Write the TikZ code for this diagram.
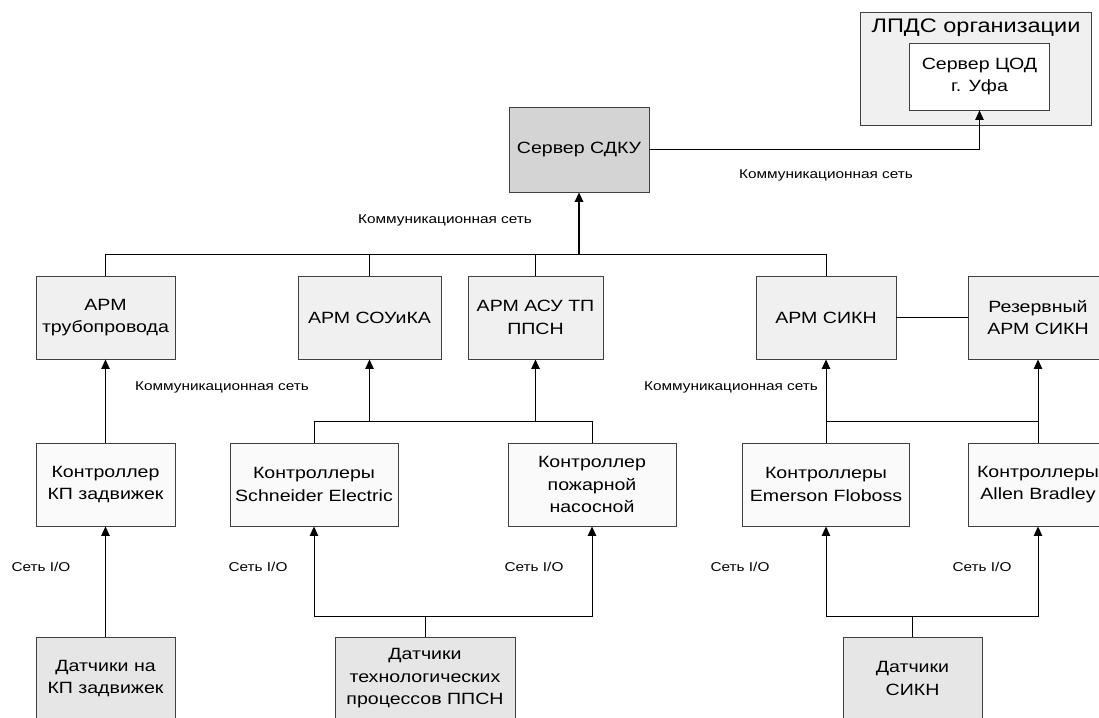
\documentclass[tikz,border=0pt]{standalone}
\usepackage{fontspec}
\setmainfont{Liberation Sans}[FakeStretch=1.2]
\usetikzlibrary{arrows.meta}

\definecolor{edgegray}{HTML}{404040}
\definecolor{fillsrv}{HTML}{D4D4D4}
\definecolor{fillarm}{HTML}{F0F0F0}
\definecolor{fillctl}{HTML}{FAFAFA}
\definecolor{fillsens}{HTML}{E6E6E6}

\begin{document}
\begin{tikzpicture}[x=1pt,y=-1pt,
  blk/.style={draw=edgegray, line width=0.9pt, align=center, inner sep=0pt,
    minimum height=83pt, font=\fontsize{16.3}{22.5}\selectfont},
  srvbox/.style={blk, fill=fillsrv},
  armbox/.style={blk, fill=fillarm},
  ctlbox/.style={blk, fill=fillctl},
  sensbox/.style={blk, fill=fillsens},
  wire/.style={line width=0.9pt},
  arr/.style={wire, -{Triangle[length=9.5pt,width=8.5pt]}},
  lbl/.style={inner sep=0pt, font=\fontsize{12.8}{14}\selectfont}]

\path[use as bounding box] (0,0) rectangle (1099,717);
\clip (0,0) rectangle (1099,717);
\fill[white] (0,0) rectangle (1099,717);

% organisation block with the central server
\node[armbox, minimum width=231pt, minimum height=113pt] (lpds) at (976,68.5) {};
\node[inner sep=0pt, font=\fontsize{19.6}{22}\selectfont] (lpdsT) at (976,28) {ЛПДС организации};
\node[blk, fill=white, minimum width=140pt, minimum height=67pt] (cod) at (979.5,76.5) {Сервер ЦОД\\г. Уфа};

% SCADA server
\node[srvbox, minimum width=140pt, minimum height=85pt] (srv) at (579,149.5) {Сервер СДКУ};

% workstations
\node[armbox, minimum width=139pt] (arm1) at (105.5,317.5) {АРМ\\трубопровода};
\node[armbox, minimum width=143pt] (arm2) at (369.5,317.5) {АРМ СОУиКА};
\node[armbox, minimum width=135pt] (arm3) at (535.5,317.5) {АРМ АСУ ТП\\ППСН};
\node[armbox, minimum width=140pt] (arm4) at (826,317.5) {АРМ СИКН};
\node[armbox, minimum width=140pt] (arm5) at (1038,317.5) {Резервный\\АРМ СИКН};

% controllers
\node[ctlbox, minimum width=139pt] (c1) at (105.5,484.5) {Контроллер\\КП задвижек};
\node[ctlbox, minimum width=168pt] (c2) at (314,484.5) {Контроллеры\\Schneider Electric};
\node[ctlbox, minimum width=168pt] (c3) at (592,484.5) {Контроллер\\пожарной\\насосной};
\node[ctlbox, minimum width=167pt] (c4) at (826,484.5) {Контроллеры\\Emerson Floboss};
\node[ctlbox, minimum width=140pt] (c5) at (1038,484.5) {Контроллеры\\Allen Bradley};

% field sensors
\node[sensbox, minimum width=139pt] (s1) at (105.5,678.5) {Датчики на\\КП задвижек};
\node[sensbox, minimum width=180pt] (s2) at (425,678.5) {Датчики\\технологических\\процессов ППСН};
\node[sensbox, minimum width=139pt] (s3) at (912.5,678.5) {Датчики\\СИКН};

% bus levels
\coordinate (bus) at (0,254);
\coordinate (ctlbus) at (0,421.5);
\coordinate (iobus) at (0,616);

% I/O network
\draw[arr] (s1) -- (c1);
\draw[wire] (s2.north) -- (s2.north |- iobus) coordinate (j2);
\draw[arr] (j2) -| (c2.south);
\draw[arr] (j2) -| (c3.south);
\draw[wire] (s3.north) -- (s3.north |- iobus) coordinate (j3);
\draw[arr] (j3) -| (c4.south);
\draw[arr] (j3) -| (c5.south);

% controllers to workstations
\draw[arr] (c1) -- (arm1);
\draw[wire] (c2.north) -- (c2.north |- ctlbus) -| (c3.north);
\draw[arr] (arm2.south |- ctlbus) -- (arm2.south);
\draw[arr] (arm3.south |- ctlbus) -- (arm3.south);
\draw[arr] (c4.north) -- (arm4.south);
\draw[arr] (c5.north) -- (arm5.south);
\draw[wire] (c4.north |- ctlbus) -- (c5.north |- ctlbus);
\draw[wire] (arm4) -- (arm5);

% workstations to the SCADA server
\draw[wire] (arm1.north) |- (arm4.north |- bus) -- (arm4.north);
\draw[wire] (arm2.north) -- (arm2.north |- bus);
\draw[wire] (arm3.north) -- (arm3.north |- bus);
\draw[arr, line width=1.8pt] (srv.south |- bus) -- (srv.south);

% SCADA server to the central server
\draw[arr] (srv.east) -| (cod.south);

% network labels
\node[lbl] (n1) at (826,175) {Коммуникационная сеть};
\node[lbl] (n2) at (445,220) {Коммуникационная сеть};
\node[lbl] (n3) at (222,387) {Коммуникационная сеть};
\node[lbl] (n4) at (731,387) {Коммуникационная сеть};
\node[lbl] (io1) at (41,567) {Сеть I/O};
\node[lbl] (io2) at (258,567) {Сеть I/O};
\node[lbl] (io3) at (534,567) {Сеть I/O};
\node[lbl] (io4) at (740,567) {Сеть I/O};
\node[lbl] (io5) at (982,567) {Сеть I/O};
\end{tikzpicture}
\end{document}
